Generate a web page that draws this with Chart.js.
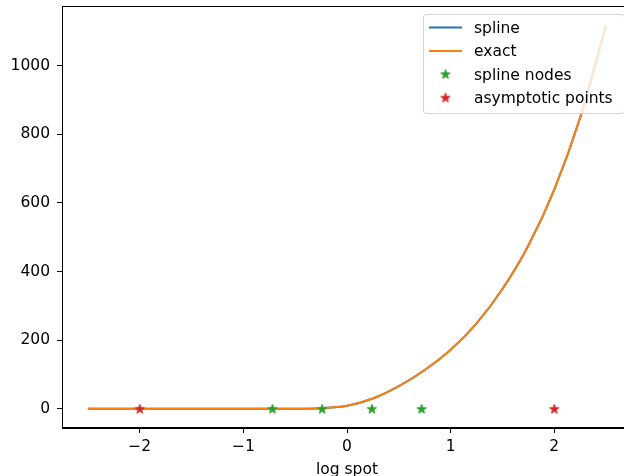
<!DOCTYPE html>
<html>
<head>
    <title>Spline vs exact</title>
    <script src="https://cdn.jsdelivr.net/npm/chart.js@4.4.0/dist/chart.umd.min.js"></script>
    <style>
        body { margin: 0; overflow: hidden; background: #fff; }
        #wrap { width: 640px; height: 476px; }
    </style>
</head>
<body>
    <div id="wrap"><canvas id="priceChart"></canvas></div>

    <script>
        // log spot grid and option values
        const logSpot = [-2.5, -2.25, -2.0, -1.75, -1.5, -1.25, -1.0, -0.75, -0.5, -0.25,
                         0.0, 0.25, 0.5, 0.75, 1.0, 1.25, 1.5, 1.75, 2.0, 2.25, 2.5];
        const exactValues = [0, 0, 0, 0, 0, 0, 0, 0.1, 0.4, 2,
                             9, 30, 66, 113, 172, 249, 349, 476, 639, 849, 1118];
        const splineValues = [0, 0, 0, 0, 0, 0, 0, 0.1, 0.4, 2,
                              9, 30, 66, 113, 172, 249, 349, 476, 639, 849, 1118];

        const nodeX = [-0.72, -0.24, 0.24, 0.72];
        const nodeY = [0, 0, 0, 0];
        const asymX = [-2, 2];
        const asymY = [0, 0];

        const xTicks = [-2, -1, 0, 1, 2];
        const yTicks = [0, 200, 400, 600, 800, 1000];

        const FONT = 'DejaVu Sans';
        const FONT_SIZE = 15.5;

        function toPoints(xs, ys) {
            return xs.map(function (x, i) { return { x: x, y: ys[i] }; });
        }

        // filled five point star used as marker
        function makeStar(color) {
            var c = document.createElement('canvas');
            c.width = 14; c.height = 14;
            var g = c.getContext('2d');
            g.beginPath();
            for (var i = 0; i < 10; i++) {
                var r = i % 2 === 0 ? 4.9 : 1.9;
                var a = -Math.PI / 2 + i * Math.PI / 5;
                var px = 7 + r * Math.cos(a), py = 7.4 + r * Math.sin(a);
                if (i === 0) g.moveTo(px, py); else g.lineTo(px, py);
            }
            g.closePath();
            g.fillStyle = color;
            g.fill();
            g.strokeStyle = color;
            g.lineWidth = 1;
            g.lineJoin = 'miter';
            g.stroke();
            return c;
        }

        // 5% margins like the usual autoscale
        var xSpan = logSpot[logSpot.length - 1] - logSpot[0];
        var xMin = logSpot[0] - 0.05 * xSpan, xMax = logSpot[logSpot.length - 1] + 0.05 * xSpan;
        var yLo = Math.min.apply(null, exactValues), yHi = Math.max.apply(null, exactValues);
        var yMin = yLo - 0.05 * (yHi - yLo), yMax = yHi + 0.05 * (yHi - yLo);

        var colors = { spline: '#1f77b4', exact: '#ff7f0e', nodes: '#2ca02c', asym: '#d62728' };
        var starNodes = makeStar(colors.nodes);
        var starAsym = makeStar(colors.asym);

        // frame around the plot and an in-axes legend
        var framePlugin = {
            id: 'frameAndLegend',
            afterDatasetsDraw: function (chart) {
                var ctx = chart.ctx, a = chart.chartArea;
                ctx.save();
                ctx.strokeStyle = '#000';
                ctx.lineWidth = 1;
                ctx.strokeRect(a.left + 0.5, a.top + 0.5, a.right - a.left - 1, a.bottom - a.top - 1);

                var items = [
                    { label: 'spline', kind: 'line', color: colors.spline },
                    { label: 'exact', kind: 'line', color: colors.exact },
                    { label: 'spline nodes', kind: 'star', img: starNodes },
                    { label: 'asymptotic points', kind: 'star', img: starAsym }
                ];
                var right = a.right - 8, top = a.top + 8;
                var w = 201, h = 99, left = right - w;
                ctx.beginPath();
                ctx.roundRect(left + 0.5, top + 0.5, w, h, 3);
                ctx.fillStyle = 'rgba(255,255,255,0.8)';
                ctx.fill();
                ctx.strokeStyle = 'rgba(204,204,204,0.8)';
                ctx.lineWidth = 1;
                ctx.stroke();

                ctx.font = FONT_SIZE + 'px "' + FONT + '"';
                ctx.textBaseline = 'middle';
                ctx.fillStyle = '#000';
                items.forEach(function (it, i) {
                    var cy = top + 13.5 + i * 23.5;
                    if (it.kind === 'line') {
                        ctx.strokeStyle = it.color;
                        ctx.lineWidth = 2;
                        ctx.beginPath();
                        ctx.moveTo(left + 6, cy);
                        ctx.lineTo(left + 39, cy);
                        ctx.stroke();
                    } else {
                        ctx.drawImage(it.img, left + 22.5 - 7, cy - 7.4);
                    }
                    ctx.fillText(it.label, left + 51, cy + 1);
                });
                ctx.restore();
            }
        };

        var ctx = document.getElementById('priceChart').getContext('2d');
        new Chart(ctx, {
            type: 'scatter',
            data: {
                datasets: [
                    {
                        label: 'spline',
                        data: toPoints(logSpot, splineValues),
                        showLine: true,
                        borderColor: colors.spline,
                        borderWidth: 2,
                        pointRadius: 0,
                        cubicInterpolationMode: 'monotone',
                        order: 3
                    },
                    {
                        label: 'exact',
                        data: toPoints(logSpot, exactValues),
                        showLine: true,
                        borderColor: colors.exact,
                        borderWidth: 2,
                        pointRadius: 0,
                        cubicInterpolationMode: 'monotone',
                        order: 2
                    },
                    {
                        label: 'spline nodes',
                        data: toPoints(nodeX, nodeY),
                        pointStyle: starNodes,
                        order: 1
                    },
                    {
                        label: 'asymptotic points',
                        data: toPoints(asymX, asymY),
                        pointStyle: starAsym,
                        order: 0
                    }
                ]
            },
            options: {
                responsive: true,
                maintainAspectRatio: false,
                animation: false,
                layout: { padding: { top: 6, right: 8, left: 0, bottom: 0 } },
                plugins: {
                    legend: { display: false },
                    tooltip: { enabled: false }
                },
                scales: {
                    x: {
                        type: 'linear',
                        min: xMin,
                        max: xMax,
                        afterBuildTicks: function (s) { s.ticks = xTicks.map(function (v) { return { value: v }; }); },
                        afterFit: function (s) { s.height = 48; s.paddingLeft = 0; s.paddingRight = 0; },
                        grid: { drawOnChartArea: false, drawTicks: true, tickLength: 5, color: '#000' },
                        border: { display: true, color: '#000', width: 1 },
                        ticks: {
                            color: '#000',
                            padding: 5,
                            maxRotation: 0,
                            font: { family: FONT, size: FONT_SIZE },
                            callback: function (v) { return v < 0 ? '\u2212' + Math.abs(v) : String(v); }
                        },
                        title: {
                            display: true,
                            text: 'log spot',
                            color: '#000',
                            font: { family: FONT, size: FONT_SIZE },
                            padding: { top: 0, bottom: -3 }
                        }
                    },
                    y: {
                        type: 'linear',
                        min: yMin,
                        max: yMax,
                        afterBuildTicks: function (s) { s.ticks = yTicks.map(function (v) { return { value: v }; }); },
                        afterFit: function (s) { s.width = 62; s.paddingTop = 0; s.paddingBottom = 0; },
                        grid: { drawOnChartArea: false, drawTicks: true, tickLength: 5, color: '#000' },
                        border: { display: true, color: '#000', width: 1 },
                        ticks: {
                            color: '#000',
                            padding: 7,
                            font: { family: FONT, size: FONT_SIZE },
                            callback: function (v) { return String(v); }
                        }
                    }
                }
            },
            plugins: [framePlugin]
        });
    </script>
</body>
</html>
